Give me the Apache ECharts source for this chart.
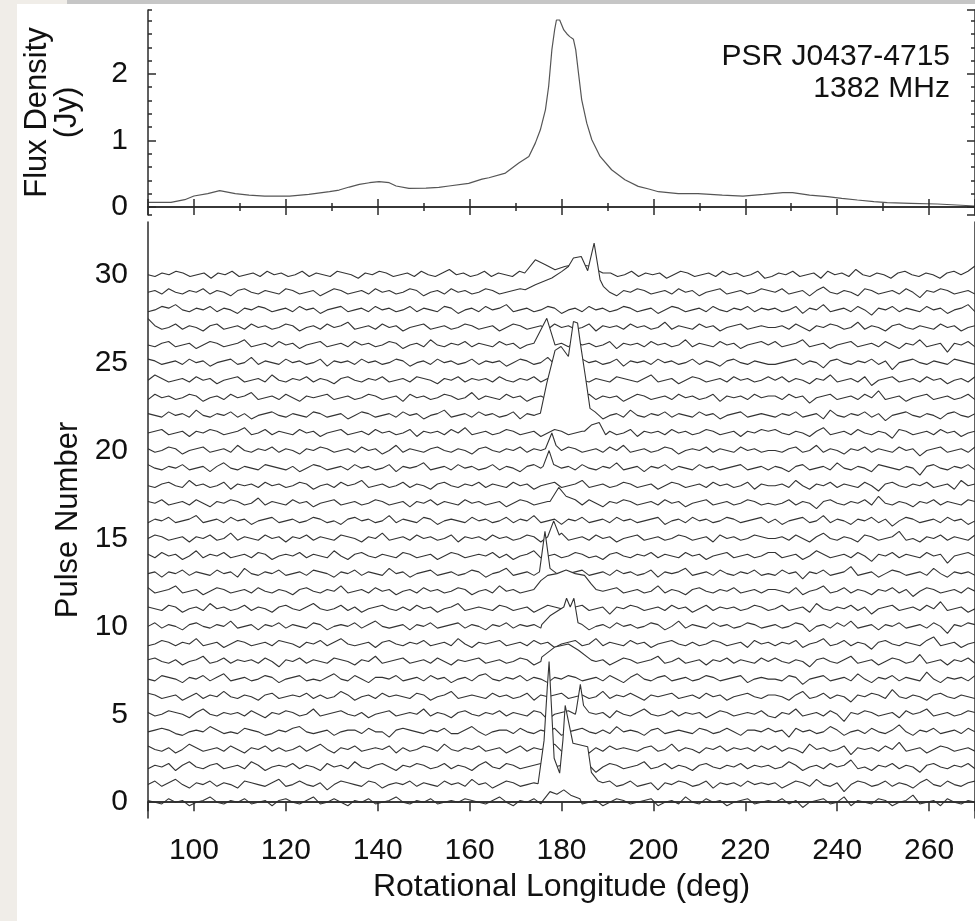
<!DOCTYPE html>
<html><head><meta charset="utf-8">
<script src="https://cdn.jsdelivr.net/npm/echarts@6/dist/echarts.min.js"></script>
<style>
html,body{margin:0;padding:0;background:#f0ede8;}
#paper{position:absolute;left:17px;top:4px;width:958px;height:917px;background:#fff;}
#bar{position:absolute;left:67px;top:0;width:908px;height:4px;background:#c6c6c6;}
#c{position:absolute;left:0;top:0;width:975px;height:921px;}
</style>
</head><body><div id="paper"></div><div id="bar"></div><div id="c"></div>
<script>
// ---------- data ----------
const LON_MIN = 90, LON_MAX = 270;

// integrated profile (top panel)
const profileLon  = [90,92,95,98,100,103,105.6,109,112,115.4,120.8,125,129.5,131.6,133.8,136,138.2,140.3,142.5,144,146.8,150.5,153.3,155.5,159.8,162.7,164.2,167.8,170.7,172.9,174.3,175.4,176.5,177.2,177.9,178.5,178.9,179.6,180.5,181.2,181.8,182.6,183.1,183.7,184.4,185.5,186.6,188.4,190.9,193.8,196.7,199,201.1,205.4,209.7,215,219.5,224,228.2,230.3,234,237.9,241,244.4,248,250.9,256,261.8,266,270];
const profileFlux = [0.07,0.07,0.07,0.11,0.165,0.2,0.245,0.2,0.18,0.165,0.165,0.19,0.23,0.255,0.3,0.34,0.365,0.38,0.365,0.316,0.28,0.285,0.296,0.316,0.356,0.42,0.44,0.51,0.66,0.76,0.96,1.16,1.46,1.81,2.36,2.66,2.81,2.81,2.66,2.6,2.56,2.52,2.36,2.01,1.61,1.26,1.01,0.76,0.56,0.41,0.31,0.27,0.23,0.2,0.2,0.18,0.165,0.19,0.215,0.215,0.18,0.155,0.13,0.105,0.08,0.065,0.055,0.045,0.03,0.015];

// single pulses (bottom panel): off-pulse noise across 90-270 deg, in units of 0.1 pulse spacing
const pulseNumbers = Array.from({length:31},(_, i)=>i);
const noiseUnit = 0.1;
const pulseNoise = [
[1,0,-1,2,0,1,-2,0,1,3,0,-1,1,0,2,-1,0,1,-2,1,2,0,-1,1,3,-1,0,2,0,-2,1,0,2,-1,0,1,3,0,-1,1,0,2,-1,0,1,0,2,1,0,-1,1,3,0,-2,1,0,2,-1,1,0,-2,1,2,-1,0,1,-2,0,2,1,-1,0,1,2,-2,0,1,-1,3,0,-1,2,0,1,-2,0,1,2,-1,0,1,0,2,-1,1,-3,0,1,2,-1,0,3,-2,1,0,-1,2,1,-2,0,1,4,-1,0,1,-2,2,0,-1,1,0],
[0,2,-1,1,3,0,-2,1,0,2,-1,1,0,-2,2,1,0,-1,1,3,-1,0,2,0,-1,1,-3,0,2,1,0,-1,2,1,-2,0,1,0,2,-1,1,0,-1,2,0,1,-1,3,0,1,-2,0,2,1,-1,0,1,-1,2,0,1,-2,0,3,0,-1,1,2,-1,0,2,-1,0,1,-3,1,0,2,1,-1,0,2,-2,1,0,1,-1,2,0,1,0,1,-2,0,2,1,-1,3,0,-1,1,-4,0,2,1,-1,0,2,-1,1,0,-2,1,3,0,-1,2,0,-1,1,2],
[-1,1,0,2,-2,1,3,0,-1,1,2,-1,0,1,-1,3,1,-2,0,1,0,2,-1,1,0,-2,2,0,1,-1,3,0,-1,1,2,0,-2,1,0,2,1,-1,0,2,-1,1,0,-2,1,3,0,-1,2,1,-1,0,1,2,-2,0,1,-1,2,0,1,-3,0,2,1,-1,0,1,3,-1,0,2,-1,1,0,-2,1,2,0,-1,1,0,2,-1,1,0,1,-1,0,3,1,-2,0,1,-1,2,0,1,4,-1,0,-2,1,0,2,-1,1,0,-3,1,2,0,-1,1,0,2,-1],
[2,0,-1,1,-2,0,3,1,-1,0,1,-1,2,0,-2,1,0,2,-1,1,-1,0,2,-1,1,3,0,-2,1,0,2,-1,0,1,0,2,-2,1,-1,0,2,1,-1,3,0,-1,1,0,2,-1,0,1,-2,0,2,-1,1,0,1,3,-1,0,2,0,-2,1,-1,2,0,1,0,-1,1,2,-1,0,3,-1,1,0,-2,1,0,2,-1,1,0,1,-1,2,0,2,-1,1,0,-2,3,0,1,-1,0,2,-3,1,0,1,-1,2,0,4,-1,0,1,-2,0,2,1,-1,0,1,-1],
[0,1,2,1,-1,-2,0,1,0,3,1,-1,0,-1,2,1,0,-2,-1,1,0,2,3,0,-1,0,1,-2,0,1,1,-1,2,0,0,-3,1,2,1,0,-1,1,0,2,-1,-1,1,3,0,-2,0,1,1,-1,2,0,-1,1,0,2,-2,0,1,2,0,-1,1,-1,3,0,1,0,-2,1,2,-1,0,1,0,-1,2,1,-1,0,2,0,-2,1,1,0,2,0,1,-3,2,0,1,-1,0,3,1,-2,0,1,-1,2,0,-1,1,4,0,-2,1,0,2,-1,0,1,-1,2,0],
[1,-1,0,2,1,0,-2,1,3,0,-1,1,0,1,-1,2,0,-2,1,0,2,1,-1,0,3,-1,0,1,2,0,-1,1,-2,0,1,2,-1,0,1,0,3,-1,1,0,-2,1,2,0,-1,1,0,2,-1,1,0,-1,2,1,-3,0,1,2,0,-1,1,0,1,-2,2,0,-1,1,3,0,-1,0,2,-1,1,0,1,-2,0,2,1,-1,0,1,0,2,-1,-2,1,0,3,-1,0,1,-1,2,0,-4,1,0,2,1,-1,0,1,-2,2,0,1,3,-1,0,1,-1,0,2,1],
[2,1,-1,0,1,-2,0,2,-1,1,0,3,0,-1,1,0,-2,1,2,-1,0,1,0,2,-1,1,-1,0,3,1,-2,0,1,-1,2,0,1,0,-1,2,1,-2,0,1,3,-1,0,1,0,-1,2,0,1,-1,0,2,-2,1,0,1,2,-1,0,1,-1,0,3,-1,1,0,2,0,-2,1,0,1,2,-1,0,1,-1,2,0,1,-2,0,1,2,0,-1,1,1,0,-2,1,3,-1,0,2,-1,1,0,-3,1,0,2,1,-1,4,0,-1,1,0,-2,1,2,0,-1,1,0,-1],
[0,-1,2,1,0,-2,1,0,2,-1,1,3,-1,0,1,-1,0,2,1,-2,0,1,2,-1,0,-1,1,3,0,-1,2,0,-2,1,1,0,2,-1,0,1,-1,2,0,1,-2,0,1,-1,2,3,0,-1,1,0,2,-1,1,0,-2,1,0,2,1,-1,0,1,-1,2,0,-2,1,3,0,-1,1,2,-1,0,1,-1,0,2,1,-1,0,1,2,-2,0,1,0,0,-1,2,1,-3,0,1,2,-1,0,1,-1,3,0,-2,1,0,2,-1,1,0,-1,4,0,-2,1,0,1,-1,2],
[1,2,0,-1,1,-2,0,1,3,-1,0,2,-1,1,0,1,-1,2,0,-3,1,0,2,-1,1,0,-1,2,1,0,-2,1,0,3,-1,0,1,2,-1,0,1,-1,2,0,-2,1,0,1,2,-1,0,1,-1,0,2,1,-2,0,1,3,-1,0,1,-1,2,0,1,-2,0,2,1,-1,0,1,3,-1,0,2,-1,0,1,-2,1,0,2,-1,1,0,-1,2,0,2,0,-1,1,0,-3,1,2,0,-1,1,3,-1,0,1,-2,0,2,1,-1,0,4,-1,0,1,-2,1,0,2,-1],
[-1,0,2,1,-1,1,0,3,-1,0,1,-2,0,2,1,-1,0,1,-1,2,1,0,-2,1,0,2,-1,1,3,0,-1,0,1,-2,1,2,0,-1,1,0,2,-1,0,1,-1,3,0,-2,1,0,1,2,-1,0,1,-1,2,0,1,-2,0,1,2,-1,0,3,-1,1,0,-1,2,0,1,-2,0,1,2,0,-1,1,-1,0,2,1,-1,0,1,-2,2,0,1,-1,1,0,2,-2,0,1,3,-1,0,2,-1,1,0,-3,1,2,0,-1,1,0,-1,2,4,-1,0,1,-2,0,1],
[0,2,-1,1,0,-2,1,2,0,-1,1,0,3,-1,0,1,-2,1,0,2,-1,1,0,-1,2,1,-2,0,1,0,2,-1,1,3,0,-1,0,1,-2,1,0,2,-1,0,1,2,-1,1,0,-2,1,0,2,-1,1,0,1,-1,3,0,-1,2,0,1,-2,0,1,-1,2,0,1,-1,0,2,1,-2,0,3,-1,1,0,-1,2,0,1,-1,0,2,1,-1,0,1,-1,0,2,1,-3,0,1,-1,2,0,3,-1,0,1,-2,1,0,2,-1,0,1,-1,2,0,-4,1,0,2,1],
[1,0,-1,2,1,-2,0,1,-1,3,0,1,-1,0,2,-1,1,0,-2,1,2,0,-1,1,3,0,-1,0,2,-1,1,-2,0,1,2,0,-1,1,-1,2,0,1,-2,0,1,3,-1,0,1,0,-1,2,1,-1,0,1,-2,0,2,1,0,-1,1,2,-1,0,1,-3,1,0,2,1,-1,0,1,-1,2,0,1,-2,0,2,-1,1,0,1,-1,0,2,1,-1,0,2,-1,0,1,-2,3,0,-1,1,0,2,-1,1,-3,0,1,2,-1,0,1,-1,2,0,4,-1,0,1,-2,0],
[2,-1,0,1,3,-1,0,1,-2,0,2,1,-1,0,1,-1,2,0,-1,1,0,-2,1,2,0,-1,1,0,3,-1,0,1,-1,2,0,1,-2,0,1,-1,2,0,1,-1,0,2,1,-2,0,1,-1,3,0,1,-1,0,2,-1,1,0,1,-2,0,2,1,-1,0,1,2,-1,0,1,-1,0,3,-1,1,0,-2,1,2,0,-1,1,0,2,-1,0,1,-1,1,1,0,-1,2,-2,0,1,3,-1,0,2,-1,1,0,-2,1,0,2,-1,1,-3,0,2,1,-1,0,1,-1,2,0],
[0,1,-2,1,0,2,-1,1,0,-1,2,0,1,-2,3,0,-1,1,0,2,-1,0,1,-1,2,1,0,-2,1,0,2,-1,1,0,-1,3,0,1,-2,0,1,2,-1,0,1,-1,0,2,1,-2,0,1,3,-1,0,1,-1,2,0,1,-2,0,1,2,-1,0,1,-1,2,0,1,-1,0,2,-2,1,0,1,3,-1,0,1,-1,2,0,-1,1,0,2,-1,0,-1,2,0,1,-3,1,0,2,-1,0,1,4,-1,0,1,-2,0,2,1,-1,0,1,-1,3,0,-2,1,0,1,-1],
[1,-1,2,0,1,-2,0,3,-1,1,0,2,-1,0,1,-1,2,1,-2,0,1,0,2,-1,1,0,-1,3,0,-2,1,2,0,-1,1,0,-1,2,1,-1,0,1,-2,0,2,1,-1,0,1,0,2,-1,1,-2,0,1,3,-1,0,1,-1,0,2,1,-1,0,-2,1,2,0,-1,1,0,2,-1,1,0,-1,2,0,1,-2,0,1,2,-1,0,1,-1,0,2,2,-1,0,1,-2,0,3,1,-1,0,1,-1,2,0,-3,1,0,2,-1,1,0,-1,2,0,1,-4,0,1,2,0],
[0,2,1,-1,0,1,-2,1,0,2,-1,0,3,-1,1,0,-1,2,0,1,-2,1,0,2,-1,1,0,-1,2,1,0,-2,1,0,3,-1,0,1,-1,2,0,1,-1,0,2,-2,1,0,1,-1,2,0,1,-1,0,2,1,-2,0,1,3,-1,0,1,-1,2,0,1,-2,0,1,2,-1,0,1,-1,0,2,1,-1,0,1,-2,2,0,1,-1,0,2,1,0,0,1,-1,2,0,-2,1,3,0,-1,1,0,-2,2,1,-1,0,1,4,-1,0,-2,1,0,2,-1,1,0,-1,2],
[-1,1,0,2,-1,0,1,3,-1,0,1,-1,2,0,1,-2,0,1,2,-1,0,1,-1,0,2,1,-1,0,-2,1,2,0,1,-1,0,3,-1,1,0,-1,2,1,-2,0,1,0,-1,2,0,1,-1,0,2,-1,1,0,3,-1,0,1,-2,1,0,2,-1,0,1,-1,2,0,1,-1,0,1,2,-2,0,1,-1,2,0,1,-1,0,2,1,-1,0,1,2,-1,1,-2,0,1,2,-1,0,3,-1,1,0,-2,1,0,2,-1,1,-3,0,2,1,-1,0,1,-1,2,0,1,-2,0],
[1,0,2,-1,0,1,-1,2,0,-2,1,0,2,1,-1,0,3,-1,1,0,-1,2,0,1,-2,0,1,2,-1,0,1,-1,0,2,1,-1,0,1,-2,1,0,2,-1,1,0,-1,2,0,1,-1,0,1,-2,0,2,1,-1,0,1,3,-1,0,1,-1,2,0,-2,1,0,2,1,-1,0,1,-1,2,0,1,-2,0,1,2,-1,0,1,-1,0,2,1,-1,0,-1,0,2,-1,1,0,-3,1,2,0,-1,1,0,2,-1,4,0,-1,1,0,-2,1,0,2,-1,1,0,-1,2,1],
[0,-1,1,2,0,-1,3,0,1,-1,0,2,-2,1,0,1,-1,2,0,1,-1,0,2,1,-2,0,1,-1,2,0,1,3,-1,0,1,-1,0,2,-1,1,0,-2,1,2,0,-1,1,0,2,-1,1,0,-1,2,0,1,-2,0,1,2,-1,0,1,3,-1,0,1,-1,0,2,1,-1,0,1,-2,0,2,1,-1,0,1,-1,2,0,1,-1,0,2,-2,1,0,0,1,-1,3,0,-2,1,0,2,-1,1,0,-1,2,0,-3,1,2,0,-1,1,0,2,-1,0,1,-2,3,0,1],
[2,0,-1,1,0,2,-1,0,1,-2,1,3,0,-1,1,0,-1,2,1,0,-1,1,-2,0,2,1,-1,0,1,-1,2,0,1,-1,0,2,-2,1,0,1,3,-1,0,1,-1,2,0,1,-1,0,2,-1,1,0,-2,1,2,0,-1,1,0,1,-1,2,0,-1,1,0,3,-1,0,1,-2,1,0,2,-1,1,0,-1,2,0,1,-1,0,1,2,-1,0,1,-1,1,0,-2,1,2,-1,0,1,-1,3,0,-1,1,0,-2,2,1,0,-1,1,0,-4,1,2,0,-1,1,0,2,-1],
[1,-1,0,2,1,-2,0,1,2,-1,0,1,-1,3,0,-1,1,0,2,-1,1,0,-2,1,0,2,1,-1,0,1,-1,2,0,1,-2,0,3,-1,1,0,-1,1,2,0,-1,1,0,-2,1,2,0,-1,1,0,2,-1,1,0,1,-2,0,2,1,-1,0,1,-1,2,0,3,-1,0,1,-1,0,2,1,-2,0,1,0,2,-1,1,0,-1,2,0,1,-1,0,0,-1,1,2,-1,0,3,-1,1,0,-2,1,0,2,-1,1,0,-1,2,0,1,-3,0,1,2,-1,0,1,-1,2],
[0,1,2,-1,0,1,-2,1,0,2,1,-1,0,1,3,-1,0,2,-1,1,0,-1,2,0,1,-2,0,1,2,-1,0,1,-1,2,0,1,-1,0,2,-2,1,0,1,-1,2,0,3,-1,0,1,-1,0,2,1,-1,0,1,-2,0,2,1,-1,0,1,2,-1,0,1,-1,0,2,-2,1,0,1,-1,2,0,1,-1,0,2,1,-1,0,1,-2,1,0,2,1,2,0,-1,1,0,-2,1,3,-1,0,1,-1,2,0,-1,1,0,-3,2,1,-1,0,1,-1,2,0,1,-2,0,1],
[1,0,-1,2,0,1,-1,3,0,-1,1,0,2,-1,1,-2,0,1,2,0,-1,1,0,-1,2,1,-1,0,1,-2,0,2,1,-1,0,1,-1,2,0,1,-2,0,1,3,-1,0,1,-1,2,0,1,-1,0,2,-2,1,0,1,-1,2,0,1,-1,0,2,1,-2,0,1,-1,3,0,-1,1,0,2,-1,1,0,-1,2,0,1,-2,0,1,2,-1,0,1,0,-1,1,0,2,-1,0,1,-2,3,0,-1,1,0,2,-1,1,-3,0,1,2,0,-1,1,0,-2,1,2,0,-1,1],
[-1,2,0,1,-1,0,2,1,-2,0,1,-1,2,0,1,3,-1,0,1,-1,2,0,-2,1,0,1,2,-1,0,1,-1,0,2,1,-1,0,1,-2,2,0,1,-1,0,2,1,-1,0,3,-1,1,0,-1,2,0,1,-2,0,1,-1,2,0,1,-1,0,2,-1,1,0,1,-2,0,2,1,-1,0,1,-1,2,0,1,-1,0,2,-2,1,0,1,-1,2,0,1,1,-1,2,0,1,-3,0,1,2,-1,0,1,-1,2,0,4,-1,0,1,-2,0,1,2,-1,0,1,-1,0,2,-1],
[0,3,1,-1,0,1,-1,2,0,1,-2,0,1,2,-1,0,1,-1,3,0,-1,1,0,2,-1,1,0,-2,1,2,0,-1,1,0,2,-1,0,1,-1,2,1,0,-2,1,0,2,-1,1,0,1,-1,2,0,-1,1,0,2,-1,1,-2,0,1,2,0,-1,1,0,-1,2,1,0,-1,1,3,-1,0,1,-2,0,2,1,-1,0,1,-1,2,0,1,-1,0,2,0,2,-1,1,0,-2,1,0,3,-1,0,1,-1,2,-3,0,1,2,-1,0,1,-1,2,0,1,-2,0,1,-1,2],
[2,1,-1,0,1,-1,2,0,1,-2,0,1,2,-1,0,3,-1,1,0,-1,2,0,1,-1,0,2,-2,1,0,1,-1,2,0,1,-1,0,2,1,-2,0,1,-1,2,0,1,-1,0,2,-1,1,0,1,-2,0,2,1,-1,0,3,-1,1,0,-1,2,0,1,-1,0,2,-2,1,0,1,-1,2,0,1,-1,0,2,-1,1,0,-2,1,2,0,-1,1,0,-1,-1,0,1,2,-1,1,0,-3,1,2,0,-1,1,0,2,-1,1,-4,0,1,2,0,-1,1,0,-1,2,1,0,-1],
[0,-1,1,2,-1,0,1,-2,0,2,1,-1,0,1,3,-1,0,1,-1,2,0,1,-2,0,1,2,-1,0,1,-1,2,0,1,-1,0,2,1,-2,0,1,-1,3,0,-1,1,0,2,-1,1,0,-1,2,0,1,-2,0,1,2,-1,0,1,-1,2,0,1,-1,0,2,-2,1,0,1,-1,2,0,1,-1,0,3,-1,1,0,-1,2,0,1,-2,0,1,2,0,2,-1,0,1,3,-1,0,1,-2,0,1,2,-1,0,1,-1,2,0,-2,1,0,3,-1,0,1,-4,1,0,2,-1],
[5,1,-1,0,2,-1,1,0,-2,1,2,-1,0,1,-1,2,0,1,-1,0,2,1,-2,0,1,-1,2,0,1,3,-1,0,1,-1,2,0,1,-2,0,1,2,-1,0,1,-1,0,2,1,-1,0,1,-2,0,2,1,-1,0,1,-1,2,0,1,-1,0,2,-2,1,0,1,-1,2,0,1,-1,0,3,-1,1,0,-1,2,0,1,-2,0,1,2,-1,0,1,0,0,1,-1,2,0,-2,1,0,2,1,-1,0,3,-1,1,0,-2,1,2,0,-1,1,0,-1,2,0,1,-2,0,1],
[-1,0,2,1,3,0,-1,1,0,2,-1,1,0,-2,1,0,2,1,-1,0,1,-1,2,0,1,-2,0,1,2,-1,0,1,-1,2,0,1,-1,0,2,-1,1,0,-1,2,1,-2,0,1,-1,2,0,1,3,-1,0,1,-1,0,2,1,-2,0,1,-1,2,0,1,-1,0,2,1,-1,0,1,-2,0,2,1,-1,0,1,-1,2,0,-1,1,0,2,-1,1,0,1,-1,0,2,-2,1,0,3,-1,0,1,-1,2,0,-3,1,0,2,-1,1,0,-1,2,0,1,-2,0,1,3,-1],
[0,1,-1,2,0,-1,1,0,2,-1,1,0,-2,1,2,0,-1,1,0,-1,2,1,-1,0,1,-2,0,2,1,-1,0,1,-1,2,0,1,-1,0,2,1,-2,0,1,-1,2,0,1,-1,0,2,1,-1,0,1,2,-2,0,1,-1,0,2,1,-1,0,1,3,-1,0,-2,1,0,2,1,-1,0,1,-1,2,0,1,-2,0,1,2,-1,0,1,-1,0,2,1,0,2,-1,0,1,-2,1,3,0,-1,1,0,-2,2,1,-1,0,1,-1,2,0,-3,1,0,2,1,-1,0,1,-1],
[0,-1,1,0,2,1,-1,0,1,-2,1,0,2,-1,0,1,-1,2,0,1,-1,0,2,-1,1,0,-1,2,1,0,-2,1,0,2,1,-1,0,1,-1,2,0,-1,1,3,0,1,-1,0,2,-1,1,0,-1,2,0,1,-2,0,1,2,-1,0,1,-1,2,0,1,-1,0,2,-1,1,0,1,-2,0,2,1,-1,0,1,-1,2,0,1,-1,0,2,-2,-1,1,0,2,-1,0,1,-2,2,0,1,-1,3,0,-1,1,0,-2,1,2,0,-1,1,0,-2,1,2,0,2,5]
];

// on-pulse emission: pulse number -> [longitude, height above baseline]
const pulseBursts = {
  30: [[172,0.1],[174.3,0.85],[176.5,0.57],[178.6,0.28],[180.7,0.47],[183,0.6],[186,0.5],[189,0.1]],
  29: [[172.1,0.15],[174.3,0.43],[177.9,0.81],[180.1,1.19],[181.5,1.47],[182.6,1.95],[184.3,2.04],[185.7,1.23],[187.1,2.8],[188.4,0.72],[189.1,0.34]],
  26: [[174.3,0.1],[176.8,1.52],[177.2,1.43],[178.6,0.0]],
  22: [[174.5,0.05],[175.4,0.12],[176.8,1.83],[178.6,3.7],[179.9,3.92],[181.5,3.35],[182.6,5.34],[183.5,5.25],[184.1,4.11],[185.2,2.21],[186.2,0.4],[187.3,0.2]],
  21: [[185,0.1],[186.5,0.45],[188.2,0.6],[189.6,-0.1]],
  20: [[176.5,0.1],[177.9,1.0],[178.8,0.3]],
  19: [[176,0.1],[177.3,1.0],[178.3,0.2]],
  17: [[177.5,0.1],[179.4,0.9],[181,0.4],[183,0.2]],
  15: [[177,0.1],[178.3,1.0],[179.5,0.2]],
  13: [[175.2,0.1],[176.4,2.4],[177.5,0.3]],
  12: [[174,0.1],[175.5,0.6],[177,0.9],[179,1.0],[181,1.2],[183,1.0],[185,0.9],[186.5,0.4],[187.5,0.1]],
  10: [[175.7,0.1],[177.5,0.6],[180.5,1.1],[181.1,1.6],[181.9,1.1],[182.7,1.6],[183.6,0.2]],
  8:  [[175.7,0.25],[178.6,0.83],[181.5,1.0],[183.7,0.64],[186.5,0.08]],
  5:  [[183.2,0.2],[184.1,1.7],[184.8,0.5]],
  1:  [[174.9,0.05],[176.2,2.5],[176.9,5.5],[177.3,7.0],[177.7,5.0],[178.4,1.5],[179.6,0.65],[180.3,2.5],[180.8,4.5],[182.5,2.35],[185.7,2.15],[186.5,0.7],[188,0.2]],
  0:  [[176,0.1],[177.5,0.6],[179,0.45],[180.5,0.7],[182,0.4],[184,0.2]]
};

const annotationLines = ['PSR J0437-4715', '1382 MHz'];

// ---------- build ----------
function pulseData(n){
  const noise = pulseNoise[n];
  const step = (LON_MAX - LON_MIN) / (noise.length - 1);
  let pts = noise.map((v,i)=>[LON_MIN + i*step, v*noiseUnit]);
  const b = pulseBursts[n];
  if (b){
    const lo = b[0][0], hi = b[b.length-1][0];
    pts = pts.filter(p => p[0] < lo || p[0] > hi).concat(b.map(p=>[p[0],p[1]]));
    pts.sort((a,c)=>a[0]-c[0]);
  }
  return pts.map(p=>[p[0], n + p[1]]);
}

const FONT = 'Liberation Sans';
const INK = '#2b2b2b';
const lineSty = {color: INK, width: 1.5};
const noLabel = {show:false};
const noSplit = {show:false};

function xAx(grid, pos, opts){
  return Object.assign({gridIndex:grid, type:'value', min:LON_MIN, max:LON_MAX, position:pos,
    axisLine:{show:false, lineStyle:lineSty}, axisTick:{show:false}, axisLabel:noLabel, splitLine:noSplit, z:50}, opts);
}
function yAx(grid, pos, min, max, opts){
  return Object.assign({gridIndex:grid, type:'value', min:min, max:max, position:pos,
    axisLine:{show:false, lineStyle:lineSty}, axisTick:{show:false}, axisLabel:noLabel, splitLine:noSplit, z:50}, opts);
}
const majTick = len => ({show:true, inside:true, length:len, lineStyle:lineSty});

const FMIN = -0.12, FMAX = 2.96, PMIN = -0.9, PMAX = 33;
const labelSty = {show:true, fontSize:30, fontFamily:FONT, color:'#111', showMinLabel:false, showMaxLabel:false};
const nameSty = {fontSize:31, fontFamily:FONT, color:'#111', lineHeight:31};

const xAxis = [
  xAx(0,'bottom',{splitNumber:9, axisLine:{show:true,lineStyle:lineSty}, axisTick:majTick(8)}),
  xAx(0,'bottom',{interval:10, axisTick:majTick(4)}),
  xAx(0,'top',{splitNumber:9, axisLine:{show:true,lineStyle:lineSty}, axisTick:majTick(8)}),
  xAx(0,'top',{interval:10, axisTick:majTick(4)}),
  xAx(1,'bottom',{splitNumber:9, axisLine:{show:true,lineStyle:lineSty},
     axisLabel:Object.assign({margin:18}, labelSty),
     name:'Rotational Longitude (deg)', nameLocation:'middle', nameGap:50, nameTextStyle:Object.assign({}, nameSty, {fontSize:32})}),
  xAx(1,'top',{splitNumber:9, axisLine:{show:true,lineStyle:lineSty}, axisTick:majTick(9)})
];

const yAxis = [
  yAx(0,'left',FMIN,FMAX,{splitNumber:3, axisLine:{show:true,lineStyle:lineSty}, axisTick:majTick(8),
     axisLabel:Object.assign({margin:20}, labelSty),
     name:'Flux Density\n(Jy)', nameLocation:'middle', nameGap:66, nameRotate:90, nameTextStyle:Object.assign({}, nameSty, {lineHeight:30})}),
  yAx(0,'left',FMIN,FMAX,{splitNumber:15, axisTick:majTick(4)}),
  yAx(0,'right',FMIN,FMAX,{splitNumber:3, axisLine:{show:true,lineStyle:lineSty}, axisTick:majTick(8)}),
  yAx(0,'right',FMIN,FMAX,{splitNumber:15, axisTick:majTick(4)}),
  yAx(1,'left',PMIN,PMAX,{splitNumber:7, axisLine:{show:true,lineStyle:lineSty},
     axisLabel:Object.assign({margin:20}, labelSty),
     name:'Pulse Number', nameLocation:'middle', nameGap:40, nameRotate:90, nameTextStyle:nameSty}),
  yAx(1,'right',PMIN,PMAX,{axisLine:{show:true,lineStyle:lineSty}})
];

const series = [{
  type:'line', xAxisIndex:0, yAxisIndex:0, symbol:'none', silent:true,
  lineStyle:{color:'#555', width:1.2},
  data: profileLon.map((l,i)=>[l, profileFlux[i]])
}];
pulseNumbers.slice().reverse().forEach(n=>{
  series.push({
    type:'line', xAxisIndex:4, yAxisIndex:4, symbol:'none', silent:true,
    z: 10 + (30 - n) * 0.5,
    lineStyle:{color:'#333', width:1.1},
    areaStyle:{color:'#fff', opacity:1, origin:'start'},
    data: pulseData(n)
  });
});

const chart = echarts.init(document.getElementById('c'), null, {renderer:'canvas'});
chart.setOption({
  animation:false,
  backgroundColor:'transparent',
  grid:[
    {left:148, top:10, width:830, height:205},
    {left:148, top:222, width:830, height:596}
  ],
  xAxis, yAxis, series,
  graphic: annotationLines.map((t,i)=>({
    type:'text', right:25, top:42 + i*32, z:100,
    style:{text:t, fontSize:30, fontFamily:FONT, fill:'#111'}
  }))
});
</script></body></html>
